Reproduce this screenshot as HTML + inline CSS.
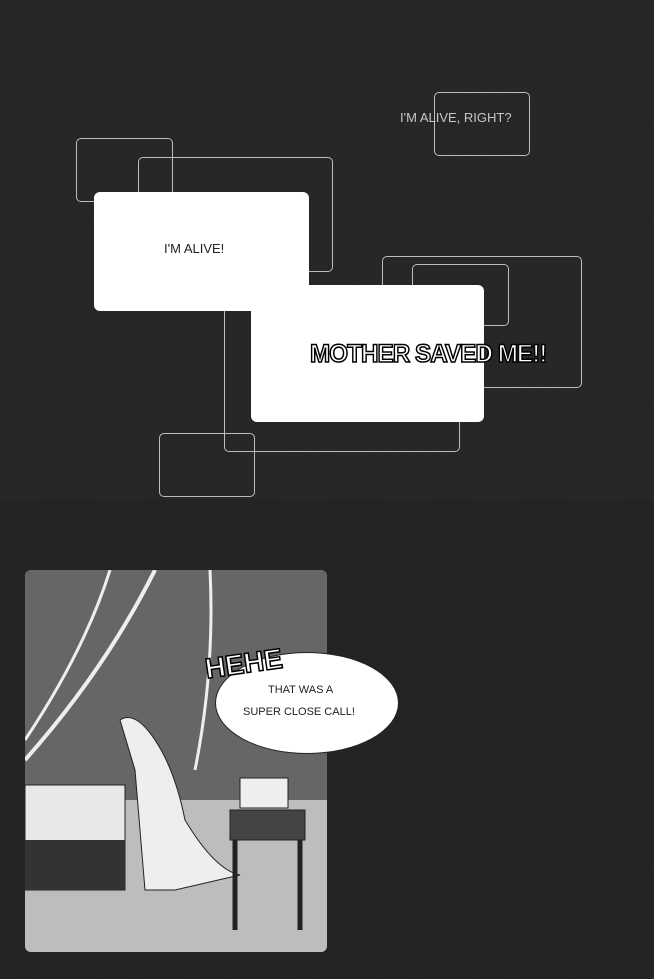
<!DOCTYPE html>
<html><head><meta charset="utf-8"><style>
body{margin:0;width:654px;height:979px;overflow:hidden;background:#262626;font-family:"Liberation Sans",sans-serif;}
.o{position:absolute;border:1.5px solid #bdbdbd;border-radius:5px;box-sizing:border-box}
.w{position:absolute;background:#fff;border-radius:6px}
.t{position:absolute;white-space:nowrap}
</style></head><body>
<div style="position:absolute;left:0;top:0;width:654px;height:979px;background:repeating-linear-gradient(45deg,#2a2a2a 0 1px,#232323 1px 2px)"></div>
<div style="position:absolute;left:0;top:500px;width:654px;height:479px;background:#1f1f1f;opacity:.3"></div>
<div class="o" style="left:76px;top:138px;width:97px;height:64px"></div>
<div class="o" style="left:138px;top:157px;width:195px;height:115px"></div>
<div class="o" style="left:434px;top:92px;width:96px;height:64px"></div>
<div class="t" style="left:400px;top:110px;color:#c8c8c8;font-size:13px">I'M ALIVE, RIGHT?</div>
<div class="o" style="left:382px;top:256px;width:200px;height:132px"></div>
<div class="o" style="left:412px;top:264px;width:97px;height:62px"></div>
<div class="o" style="left:224px;top:300px;width:236px;height:152px"></div>
<div class="o" style="left:159px;top:433px;width:96px;height:64px"></div>
<div class="w" style="left:94px;top:192px;width:215px;height:119px"></div>
<div class="t" style="left:164px;top:241px;color:#222;font-size:13px">I'M ALIVE!</div>
<div class="w" style="left:251px;top:285px;width:233px;height:137px"></div>
<div class="t" style="left:310px;top:340px;color:#fff;font-size:25px;font-weight:bold;-webkit-text-stroke:1.5px #000;letter-spacing:-1px;transform:scaleX(.97);transform-origin:left">MOTHER SAVED ME!!</div>
<div style="position:absolute;left:25px;top:570px;width:302px;height:382px;background:#8a8a8a;border-radius:6px;overflow:hidden">
<div style="position:absolute;left:0;top:0;width:302px;height:240px;background:#666"></div>
<div style="position:absolute;left:0;top:230px;width:302px;height:152px;background:#bdbdbd"></div>
<svg width="302" height="382" style="position:absolute;left:0;top:0">
<path d="M0 190 Q80 100 130 0" stroke="#eee" stroke-width="4" fill="none"/>
<path d="M0 170 Q60 80 85 0" stroke="#eee" stroke-width="3" fill="none"/>
<path d="M170 200 Q190 100 185 0" stroke="#eee" stroke-width="3" fill="none"/>
<rect x="0" y="215" width="100" height="105" fill="#e8e8e8" stroke="#222"/>
<rect x="0" y="270" width="100" height="50" fill="#333"/>
<path d="M95 150 Q110 140 130 170 Q150 200 160 250 Q190 300 215 305 L150 320 L120 320 L110 200Z" fill="#eee" stroke="#222"/>
<rect x="215" y="208" width="48" height="30" fill="#eee" stroke="#222"/>
<rect x="205" y="240" width="75" height="30" fill="#444" stroke="#222"/>
<path d="M210 270 L210 360 M275 270 L275 360" stroke="#222" stroke-width="5"/>
</svg></div>
<div style="position:absolute;left:215px;top:652px;width:182px;height:100px;background:#fff;border-radius:50%;border:1.5px solid #222"></div>
<div class="t" style="left:268px;top:684px;font-size:11px;color:#222">THAT WAS A</div>
<div class="t" style="left:243px;top:706px;font-size:11px;color:#222">SUPER CLOSE CALL!</div>
<div class="t" style="left:205px;top:648px;color:#fff;font-size:28px;font-weight:bold;-webkit-text-stroke:1.5px #000;transform:rotate(-8deg)">HEHE</div>
</body></html>
